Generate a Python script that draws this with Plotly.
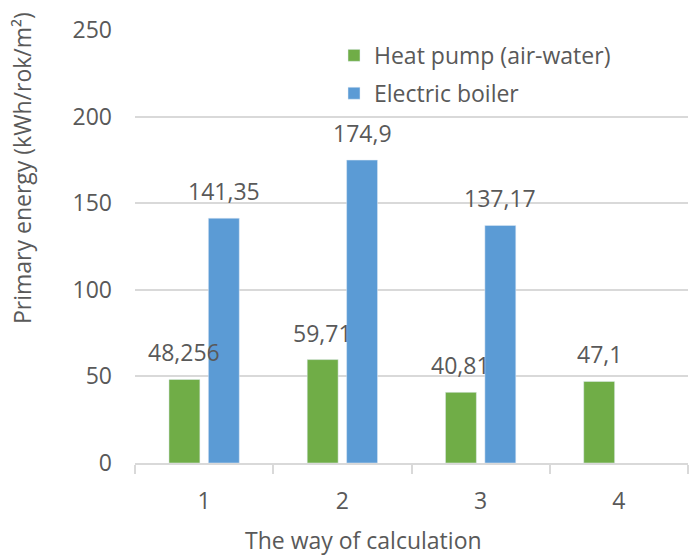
import plotly.graph_objects as go

categories = ["1", "2", "3", "4"]
heat_pump = [48.256, 59.71, 40.81, 47.1]
electric_boiler = [141.35, 174.9, 137.17, None]
series_names = ["Heat pump (air-water)", "Electric boiler"]
y_ticks = [0, 50, 100, 150, 200, 250]

GREEN = "#70AD47"
BLUE = "#5B9BD5"
TXT = "#595959"
GRID = "#D9D9D9"
FONT = "Open Sans"
FS = 23

fig = go.Figure()
fig.add_trace(go.Bar(x=categories, y=heat_pump, name=series_names[0],
                     marker_color=GREEN, legendgroup="a"))
fig.add_trace(go.Bar(x=categories, y=electric_boiler, name=series_names[1],
                     marker_color=BLUE, legendgroup="b"))

def fmt(v):
    return f"{v:g}".replace(".", ",")

annotations = []
for vals, shift in ((heat_pump, -19.7), (electric_boiler, 19.7)):
    for i, v in enumerate(vals):
        if v is None:
            continue
        # on a category axis, annotation x is the category's index
        annotations.append(dict(x=i, y=v, xref="x", yref="y", text=fmt(v),
                                showarrow=False, xshift=shift, yshift=27,
                                yanchor="middle",
                                font=dict(family=FONT, size=FS, color=TXT)))

annotations.append(dict(x=(363 - 135) / 553, y=-(540 - 463) / 433, xref="paper", yref="paper",
                        text="The way of calculation", showarrow=False,
                        xanchor="center", yanchor="middle",
                        font=dict(family=FONT, size=FS, color=TXT)))
annotations.append(dict(x=(22 - 135) / 553, y=(463 - 168) / 433, xref="paper", yref="paper",
                        text="Primary energy (kWh/rok/m²)", showarrow=False, textangle=-90,
                        xanchor="center", yanchor="middle",
                        font=dict(family=FONT, size=FS, color=TXT)))

fig.update_layout(
    width=697, height=556,
    margin=dict(l=135, r=9, t=30, b=93),
    paper_bgcolor="white", plot_bgcolor="white",
    barmode="group", bargap=0.43, bargroupgap=0.215,
    font=dict(family=FONT, size=FS, color=TXT),
    showlegend=True,
    legend=dict(x=(334 - 135) / 553, y=0.991, xanchor="left", yanchor="top",
                bgcolor="rgba(0,0,0,0)", tracegroupgap=5,
                font=dict(family=FONT, size=FS, color=TXT)),
    annotations=annotations,
)
fig.update_xaxes(type="category", showline=True, linecolor=GRID, linewidth=1.5,
                 ticks="outside", tickson="boundaries", ticklen=9, tickcolor=GRID,
                 tickwidth=1.5, showgrid=False, ticklabelstandoff=17, automargin=False,
                 tickfont=dict(family=FONT, size=FS, color=TXT))
fig.update_yaxes(range=[0, 250], tickvals=y_ticks, showgrid=True, gridcolor=GRID,
                 gridwidth=1.5, zeroline=False, showline=False, ticks="",
                 ticklabelstandoff=22, automargin=False,
                 tickfont=dict(family=FONT, size=FS, color=TXT))

# remove the browser's default 8px page margin so the figure fills the window
fig.write_html("out.html", config={"displayModeBar": False},
               post_script="document.body.style.margin='0';")
